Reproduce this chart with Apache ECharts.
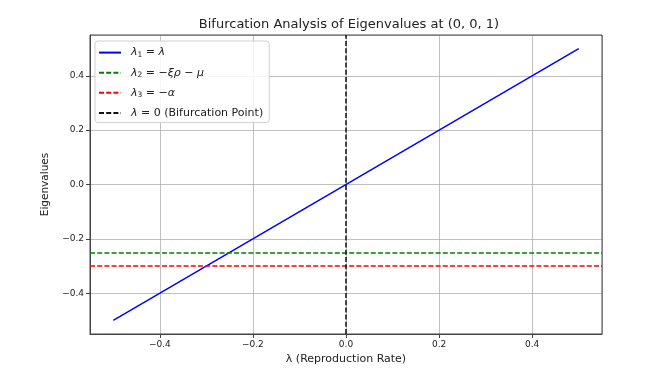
<!DOCTYPE html>
<html>
<head>
<meta charset="utf-8">
<script src="https://cdn.jsdelivr.net/npm/echarts@6/dist/echarts.min.js"></script>
<style>
  html, body { margin: 0; padding: 0; background: #fff; }
  #main { width: 650px; height: 378px; }
</style>
</head>
<body>
<div id="main"></div>
<script>
// data
var lambdaRange = [-0.5, 0.5];
var lambda1 = [-0.5, 0.5];
var lambda2 = -0.25;
var lambda3 = -0.3;
var bifurcationX = 0;
var axisMin = -0.55;
var axisMax = 0.55;

var font = "DejaVu Sans";

function tickFmt(v) {
  if (Math.abs(v) < 1e-9) return "0.0";
  return v.toFixed(1).replace("-", "\u2212");
}

var rich = {
  m: { fontFamily: font, fontStyle: "italic", fontSize: 11, color: "#222" },
  s: { fontFamily: font, fontSize: 7.5, color: "#222", verticalAlign: "bottom", padding: [5, 0, 0, 0] },
  t: { fontFamily: font, fontSize: 11, color: "#222" }
};

var legendText = {
  l1: "{m|\u03bb}{s|1}{t| = }{m|\u03bb}",
  l2: "{m|\u03bb}{s|2}{t| = \u2212}{m|\u03be\u03c1}{t| \u2212 }{m|\u03bc}",
  l3: "{m|\u03bb}{s|3}{t| = \u2212}{m|\u03b1}",
  l4: "{m|\u03bb}{t| = 0 (Bifurcation Point)}"
};

var myChart = echarts.init(document.getElementById("main"));
myChart.setOption({
  animation: false,
  backgroundColor: "#fff",
  title: {
    text: "Bifurcation Analysis of Eigenvalues at (0, 0, 1)",
    left: 344,
    textAlign: "center",
    top: 13,
    textStyle: { fontFamily: font, fontSize: 13, fontWeight: "normal", color: "#222" }
  },
  legend: {
    orient: "vertical",
    left: 95,
    top: 41,
    padding: [6, 6, 4, 3],
    itemWidth: 22,
    itemHeight: 14,
    itemGap: 8,
    backgroundColor: "rgba(255,255,255,0.85)",
    borderColor: "#d0d0d0",
    borderWidth: 1,
    borderRadius: 3,
    itemStyle: { opacity: 0 },
    textStyle: { fontFamily: font, fontSize: 11, color: "#222", padding: [0, 0, 0, 5], rich: rich },
    formatter: function (name) { return legendText[name]; },
    data: ["l1", "l2", "l3", "l4"]
  },
  grid: { left: 90, right: 48, top: 35, bottom: 44, show: true, borderColor: "#444", borderWidth: 1, z: 3 },
  xAxis: {
    type: "value",
    min: axisMin,
    max: axisMax,
    splitNumber: 5,
    name: "\u03bb (Reproduction Rate)",
    nameLocation: "middle",
    nameGap: 16,
    nameTextStyle: { fontFamily: font, fontSize: 11, color: "#222" },
    axisLine: { show: true, onZero: false, lineStyle: { color: "#444", width: 1 } },
    axisTick: { show: true, length: 4, lineStyle: { color: "#444" } },
    axisLabel: { showMinLabel: false, showMaxLabel: false, margin: 6, fontFamily: font, fontSize: 9, color: "#222", formatter: tickFmt },
    splitLine: { show: true, lineStyle: { color: "#b0b0b0", width: 0.8 } }
  },
  yAxis: {
    type: "value",
    min: axisMin,
    max: axisMax,
    splitNumber: 5,
    name: "Eigenvalues",
    nameLocation: "middle",
    nameGap: 35,
    nameTextStyle: { fontFamily: font, fontSize: 10.5, color: "#222" },
    axisLine: { show: true, onZero: false, lineStyle: { color: "#444", width: 1 } },
    axisTick: { show: true, length: 4, lineStyle: { color: "#444" } },
    axisLabel: { showMinLabel: false, showMaxLabel: false, margin: 6, fontFamily: font, fontSize: 9, color: "#222", formatter: tickFmt },
    splitLine: { show: true, lineStyle: { color: "#b0b0b0", width: 0.8 } }
  },
  series: [
    {
      name: "l1",
      type: "line",
      symbol: "none",
      data: lambdaRange.map(function (x, i) { return [x, lambda1[i]]; }),
      lineStyle: { color: "#0000ff", width: 1.5 },
      itemStyle: { color: "#0000ff" },
      z: 3
    },
    {
      name: "l2",
      type: "line",
      symbol: "none",
      data: [],
      lineStyle: { color: "#008000", width: 1.5, type: [5, 2.2] },
      itemStyle: { color: "#008000" },
      markLine: {
        silent: true, symbol: "none", label: { show: false },
        lineStyle: { color: "#008000", width: 1.5, type: [5, 2.2] },
        data: [{ yAxis: lambda2 }]
      }
    },
    {
      name: "l3",
      type: "line",
      symbol: "none",
      data: [],
      lineStyle: { color: "#ff0000", width: 1.5, type: [5, 2.2] },
      itemStyle: { color: "#ff0000" },
      markLine: {
        silent: true, symbol: "none", label: { show: false },
        lineStyle: { color: "#ff0000", width: 1.5, type: [5, 2.2] },
        data: [{ yAxis: lambda3 }]
      }
    },
    {
      name: "l4",
      type: "line",
      symbol: "none",
      data: [],
      lineStyle: { color: "#111", width: 1.5, type: [5, 2.2] },
      itemStyle: { color: "#111" },
      markLine: {
        silent: true, symbol: "none", label: { show: false },
        lineStyle: { color: "#111", width: 1.5, type: [5, 2.2] },
        data: [{ xAxis: bifurcationX }]
      }
    }
  ]
});
</script>
</body>
</html>
